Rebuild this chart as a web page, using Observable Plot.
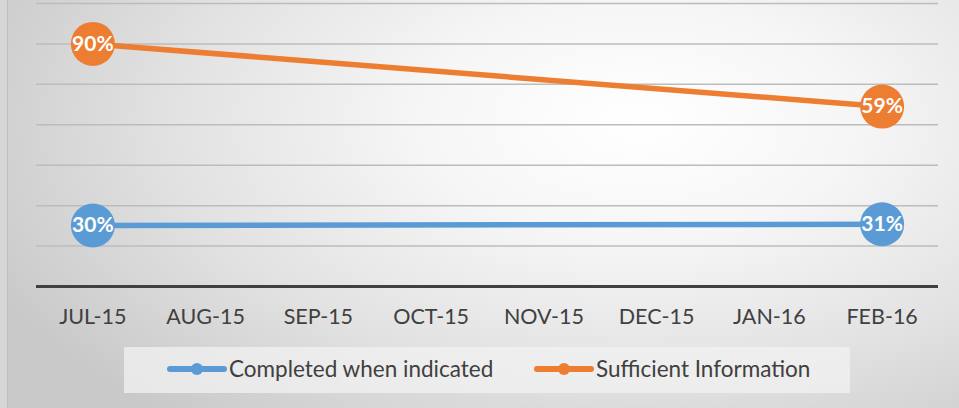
<!DOCTYPE html>
<html>
<head>
<meta charset="utf-8">
<script src="https://cdn.jsdelivr.net/npm/d3@7"></script>
<script src="https://cdn.jsdelivr.net/npm/@observablehq/plot@0.6"></script>
<style>
  html, body { margin: 0; padding: 0; }
  body { position: relative; width: 959px; height: 408px; overflow: hidden; background: #d6d6d6; font-family: Lato, "Open Sans", sans-serif; }
  #wrap { position: absolute; left: 7px; top: 0; width: 952px; height: 408px;
    border-left: 1px solid #bdbdbd;
    background: radial-gradient(ellipse 75% 95% at 66% 30%, #ffffff 0%, #f6f6f6 30%, #e2e2e2 65%, #c9c9c9 100%); }
  #chart { position: absolute; left: 0; top: 0; width: 959px; height: 340px; }
  #chart svg { max-width: none; }
  #legend { position: absolute; left: 124px; top: 347px; width: 726px; height: 46px;
    background: rgba(242,242,242,0.75); font-size: 22.5px; color: #404040; }
  .item { display: flex; align-items: center; position: absolute; top: 8px; }
  .item svg { margin-right: 2px; }
</style>
</head>
<body>
<div id="wrap"></div>
<div id="chart"></div>
<div id="legend"></div>
<script>
const months = ["JUL-15", "AUG-15", "SEP-15", "OCT-15", "NOV-15", "DEC-15", "JAN-16", "FEB-16"];
const seriesNames = ["Completed when indicated", "Sufficient Information"];
const seriesColors = ["#5B9BD5", "#ED7D31"];
const pointMonths = ["JUL-15", "FEB-16"];
const completedValues = [30, 31];
const sufficientValues = [90, 59];
const gridValues = [-10, 10, 30, 50, 70, 90, 110];

// secondary (hidden) axis for "Completed when indicated", mapped onto the primary axis
const secondary = d3.scaleLinear().domain([0, 100]).range([-17.8, 42.2]);

const completed = pointMonths.map((m, i) => ({month: m, value: completedValues[i], y: secondary(completedValues[i])}));
const sufficient = pointMonths.map((m, i) => ({month: m, value: sufficientValues[i], y: sufficientValues[i]}));

const plot = Plot.plot({
  width: 959,
  height: 340,
  marginLeft: 36,
  marginRight: 21,
  marginTop: 3,
  marginBottom: 54,
  style: {background: "transparent", fontFamily: "Lato, 'Open Sans', sans-serif", maxWidth: "none"},
  x: {type: "point", domain: months, padding: 0.5, round: false},
  y: {domain: [-30, 110], axis: null},
  marks: [
    Plot.gridY(gridValues, {stroke: "#bcbcbc", strokeOpacity: 1, strokeWidth: 1.5}),
    Plot.ruleY([-30], {stroke: "#404040", strokeWidth: 3}),
    Plot.axisX({tickSize: 0, tickPadding: 22, fontSize: 21.5, fill: "#404040", label: null}),
    Plot.line(completed, {x: "month", y: "y", stroke: seriesColors[0], strokeWidth: 5.5}),
    Plot.line(sufficient, {x: "month", y: "y", stroke: seriesColors[1], strokeWidth: 5.5}),
    Plot.dot(completed, {x: "month", y: "y", r: 22, fill: seriesColors[0]}),
    Plot.dot(sufficient, {x: "month", y: "y", r: 22, fill: seriesColors[1]}),
    Plot.text(completed, {x: "month", y: "y", text: d => d.value + "%", fill: "white", fontWeight: "bold", fontSize: 21}),
    Plot.text(sufficient, {x: "month", y: "y", text: d => d.value + "%", fill: "white", fontWeight: "bold", fontSize: 21})
  ]
});
document.getElementById("chart").appendChild(plot);

const legend = document.getElementById("legend");
const lefts = [43, 410];
seriesNames.forEach((name, i) => {
  const item = document.createElement("div");
  item.className = "item";
  item.style.left = lefts[i] + "px";
  item.innerHTML = `<svg width="60" height="24"><line x1="3" y1="12" x2="57" y2="12" stroke="${seriesColors[i]}" stroke-width="6" stroke-linecap="round"/><circle cx="30" cy="12" r="6" fill="${seriesColors[i]}"/></svg><span>${name}</span>`;
  legend.appendChild(item);
});
</script>
</body>
</html>
